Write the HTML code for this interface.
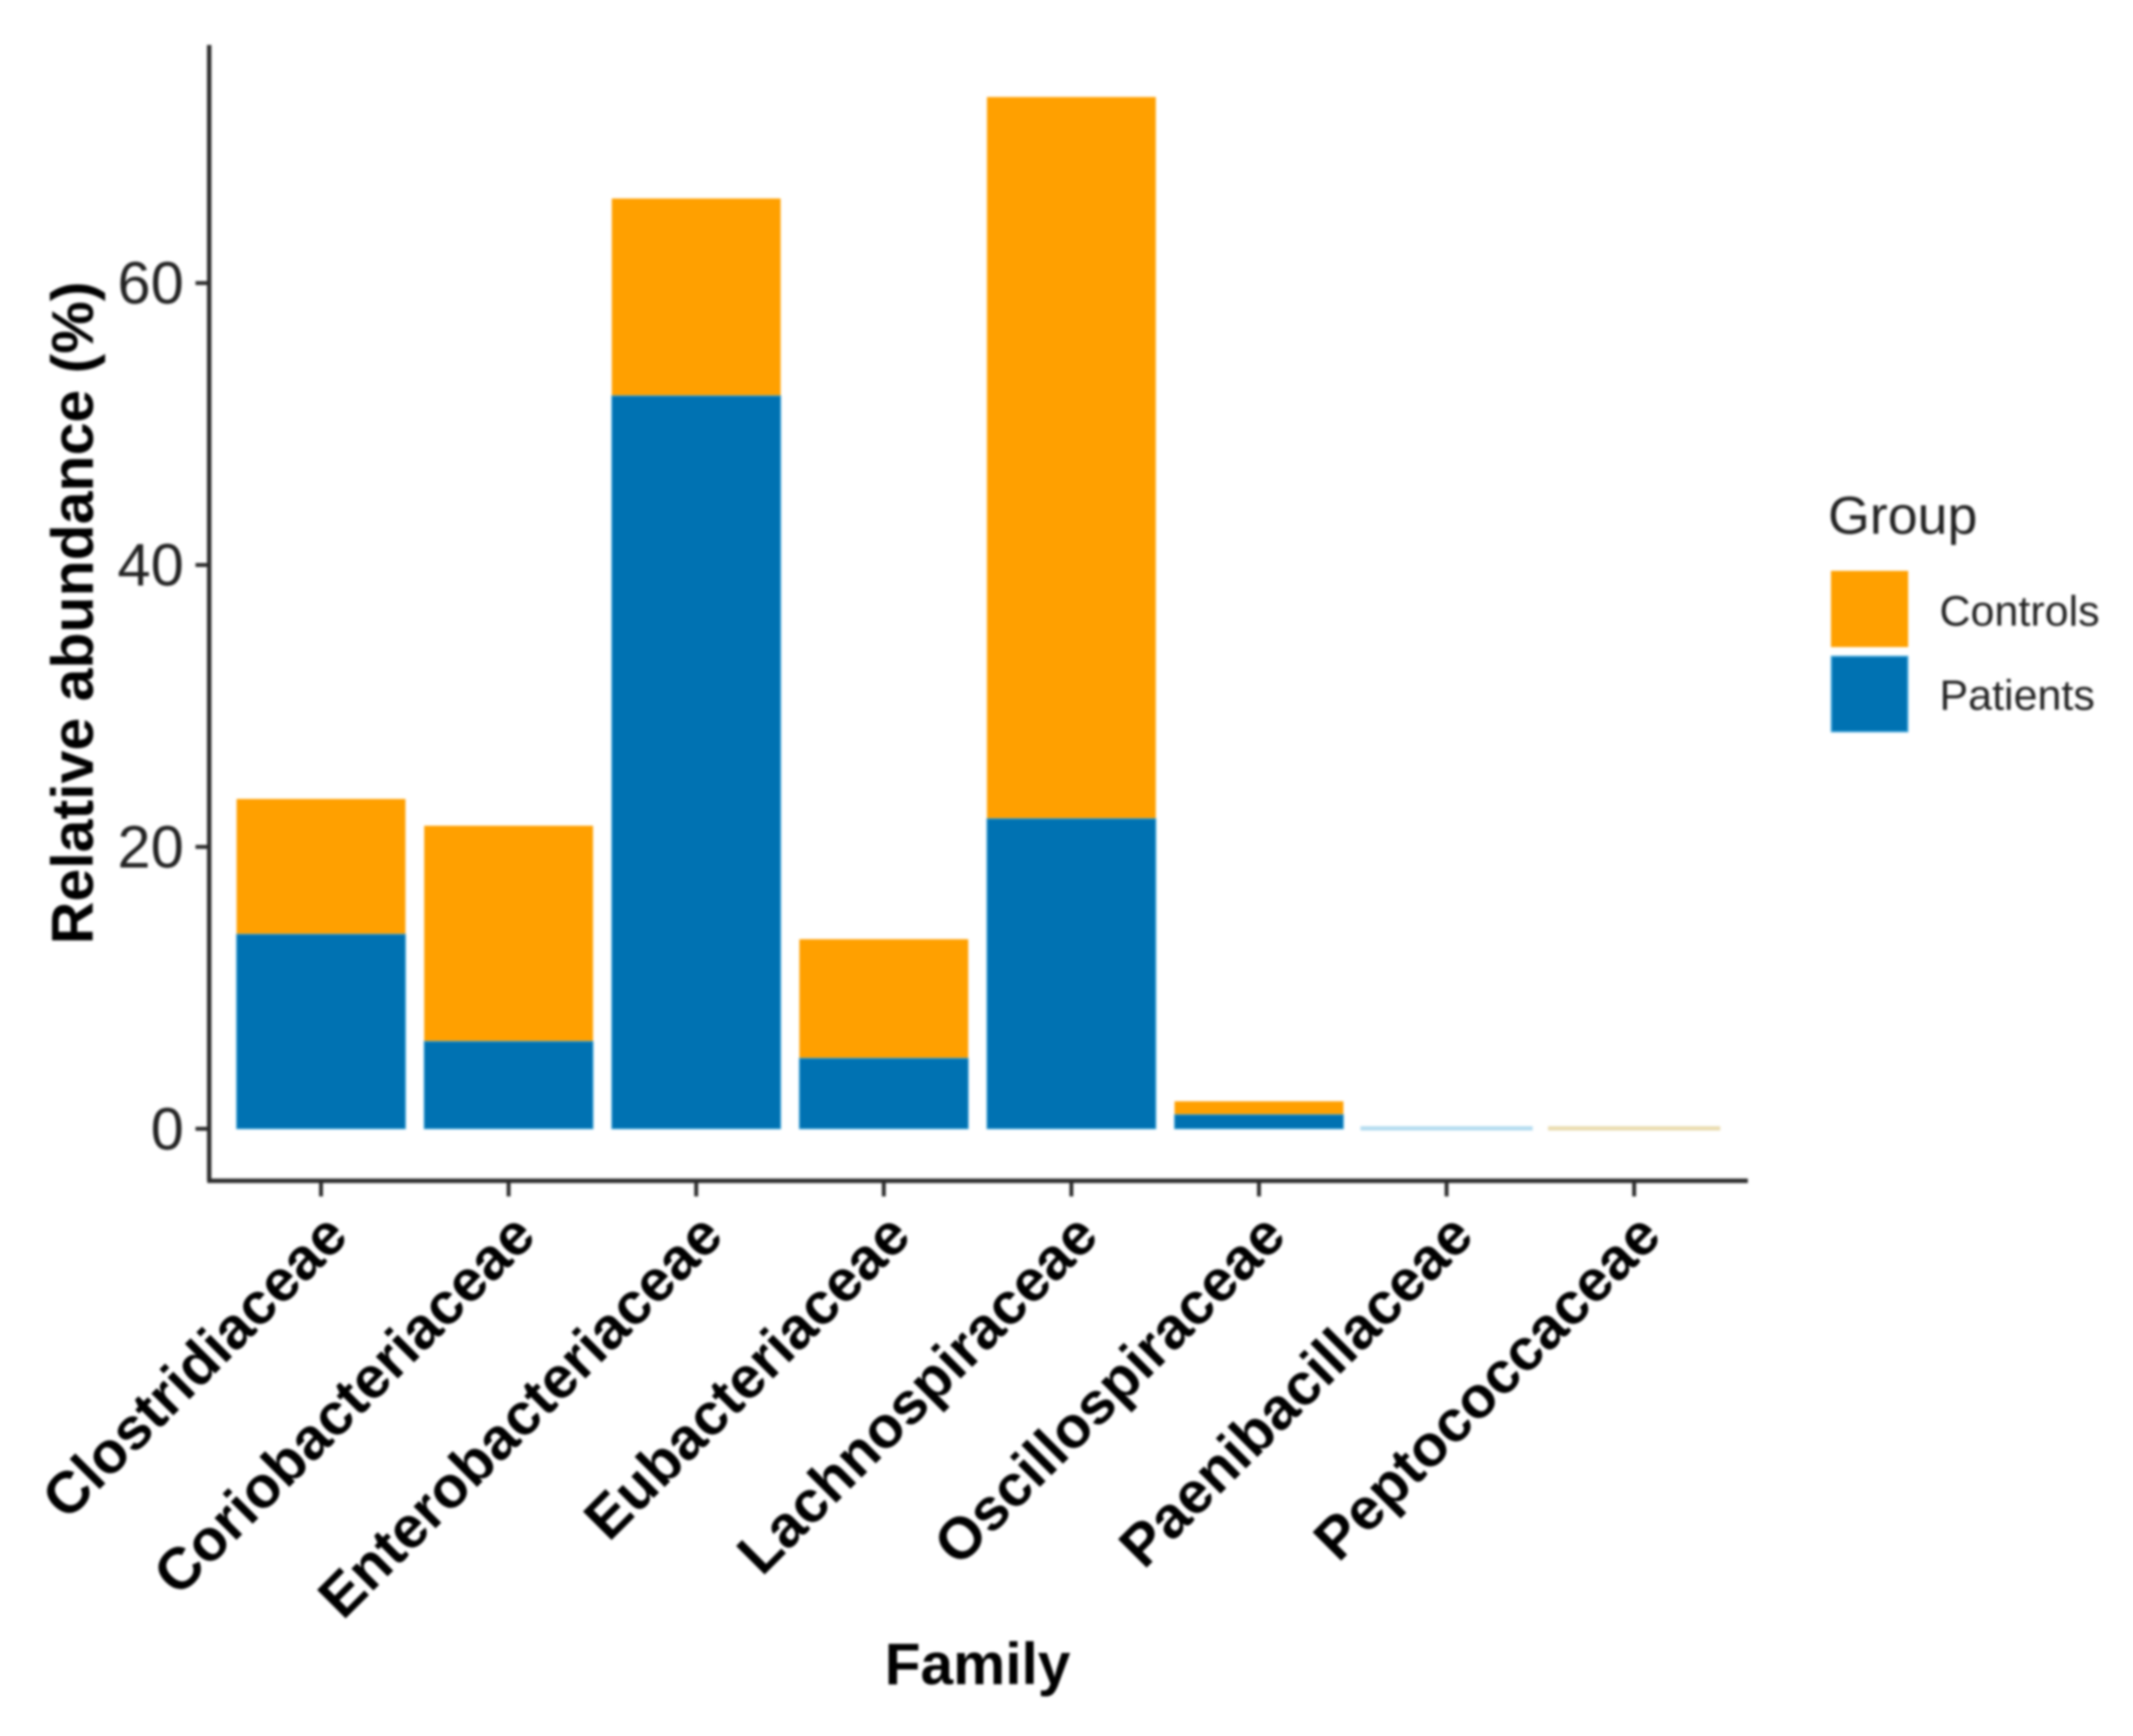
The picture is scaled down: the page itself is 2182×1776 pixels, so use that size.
<!DOCTYPE html>
<html lang="en">
<head>
<meta charset="utf-8">
<title>Relative abundance by family</title>
<style>
html,body{margin:0;padding:0;background:#fff;width:2182px;height:1776px;overflow:hidden}
svg{display:block;filter:blur(1.3px);font-family:"Liberation Sans",sans-serif}
</style>
</head>
<body>
<svg id="chart" xmlns="http://www.w3.org/2000/svg" width="2182" height="1776" viewBox="0 0 2182 1776">
  <rect x="0" y="0" width="2182" height="1776" fill="#fff"/>
  <g id="bars"></g>
  <g id="axes">
    <line x1="214" y1="46" x2="214" y2="1208" stroke="#2b2b2b" stroke-width="4.5"/>
    <line x1="212" y1="1208" x2="1788" y2="1208" stroke="#2b2b2b" stroke-width="4.5"/>
  </g>
  <text transform="translate(95,627) rotate(-90)" text-anchor="middle" font-size="60.4" font-weight="700" fill="#000">Relative abundance (%)</text>
  <text x="1000" y="1723" text-anchor="middle" font-size="60" font-weight="700" fill="#000">Family</text>
  <g>
    <text x="1870" y="546" font-size="55" fill="#222">Group</text>
    <rect x="1873" y="584" width="79" height="78" fill="#FFA000"/>
    <text x="1984" y="640" font-size="44" fill="#222">Controls</text>
    <rect x="1873.5" y="671.5" width="78" height="77" fill="#0072B2" stroke="#3FA6DC" stroke-width="1.5"/>
    <text x="1984" y="726" font-size="44" fill="#222">Patients</text>
  </g>
</svg>
<script>
const categories = ["Clostridiaceae","Coriobacteriaceae","Enterobacteriaceae","Eubacteriaceae","Lachnospiraceae","Oscillospiraceae","Paenibacillaceae","Peptococcaceae"];
const patients = [13.8,6.2,52,5.0,22.0,1.0,0.06,0];
const controls = [9.6,15.3,14,8.45,51.2,0.95,0,0.06];
const yTicks = [0,20,40,60];

const NS = "http://www.w3.org/2000/svg";
const barsLayer = document.getElementById("bars");
const axesLayer = document.getElementById("axes");
const y = v => 1154.8 - v * 14.42;
const step = 191.9;
const xCenter = i => 328.4 + i * step;
const barWidth = step * 0.9;

function make(tag, attrs, parent) {
  const el = document.createElementNS(NS, tag);
  for (const k in attrs) el.setAttribute(k, attrs[k]);
  parent.appendChild(el);
  return el;
}
function barColor(base, v) {
  // very small values read as pale hairlines in the reference
  if (v > 0.5) return base === "p" ? "#0072B2" : "#FFA000";
  return base === "p" ? "#B4DCF0" : "#EADCB0";
}
function edgeAttrs(base, v, attrs) {
  if (v <= 0.5) {
    attrs.stroke = barColor(base, v);
    attrs["stroke-width"] = 3.5;
  } else if (base === "p") {
    attrs.stroke = "#3FA6DC";
    attrs["stroke-width"] = 1;
  }
  return attrs;
}

categories.forEach((name, i) => {
  const cx = xCenter(i);
  const p = patients[i], c = controls[i];
  if (c > 0) {
    const r = make("rect", edgeAttrs("c", c, {x: cx - barWidth / 2, y: y(p + c), width: barWidth, height: y(p) - y(p + c), fill: barColor("c", c)}), barsLayer);
    
    
  }
  if (p > 0) {
    const r = make("rect", edgeAttrs("p", p, {x: cx - barWidth / 2, y: y(p), width: barWidth, height: y(0) - y(p), fill: barColor("p", p)}), barsLayer);
    
    
  }
  const t = make("line", {x1: cx, y1: 1208, x2: cx, y2: 1224, stroke: "#2b2b2b", "stroke-width": 4}, axesLayer);
  
  
  const lab = make("text", {transform: "translate(" + (cx + 30) + ",1267) rotate(-45)", "text-anchor": "end", "font-size": 60, "font-weight": 700, fill: "#000"}, axesLayer);
  lab.textContent = name;
  
  
});

yTicks.forEach(v => {
  const t = make("line", {x1: 200, y1: y(v), x2: 214, y2: y(v), stroke: "#2b2b2b", "stroke-width": 4}, axesLayer);
  
  
  const lab = make("text", {x: 188, y: y(v) + 21, "text-anchor": "end", "font-size": 61, fill: "#222"}, axesLayer);
  lab.textContent = String(v);
  
  
});
</script>
</body>
</html>
